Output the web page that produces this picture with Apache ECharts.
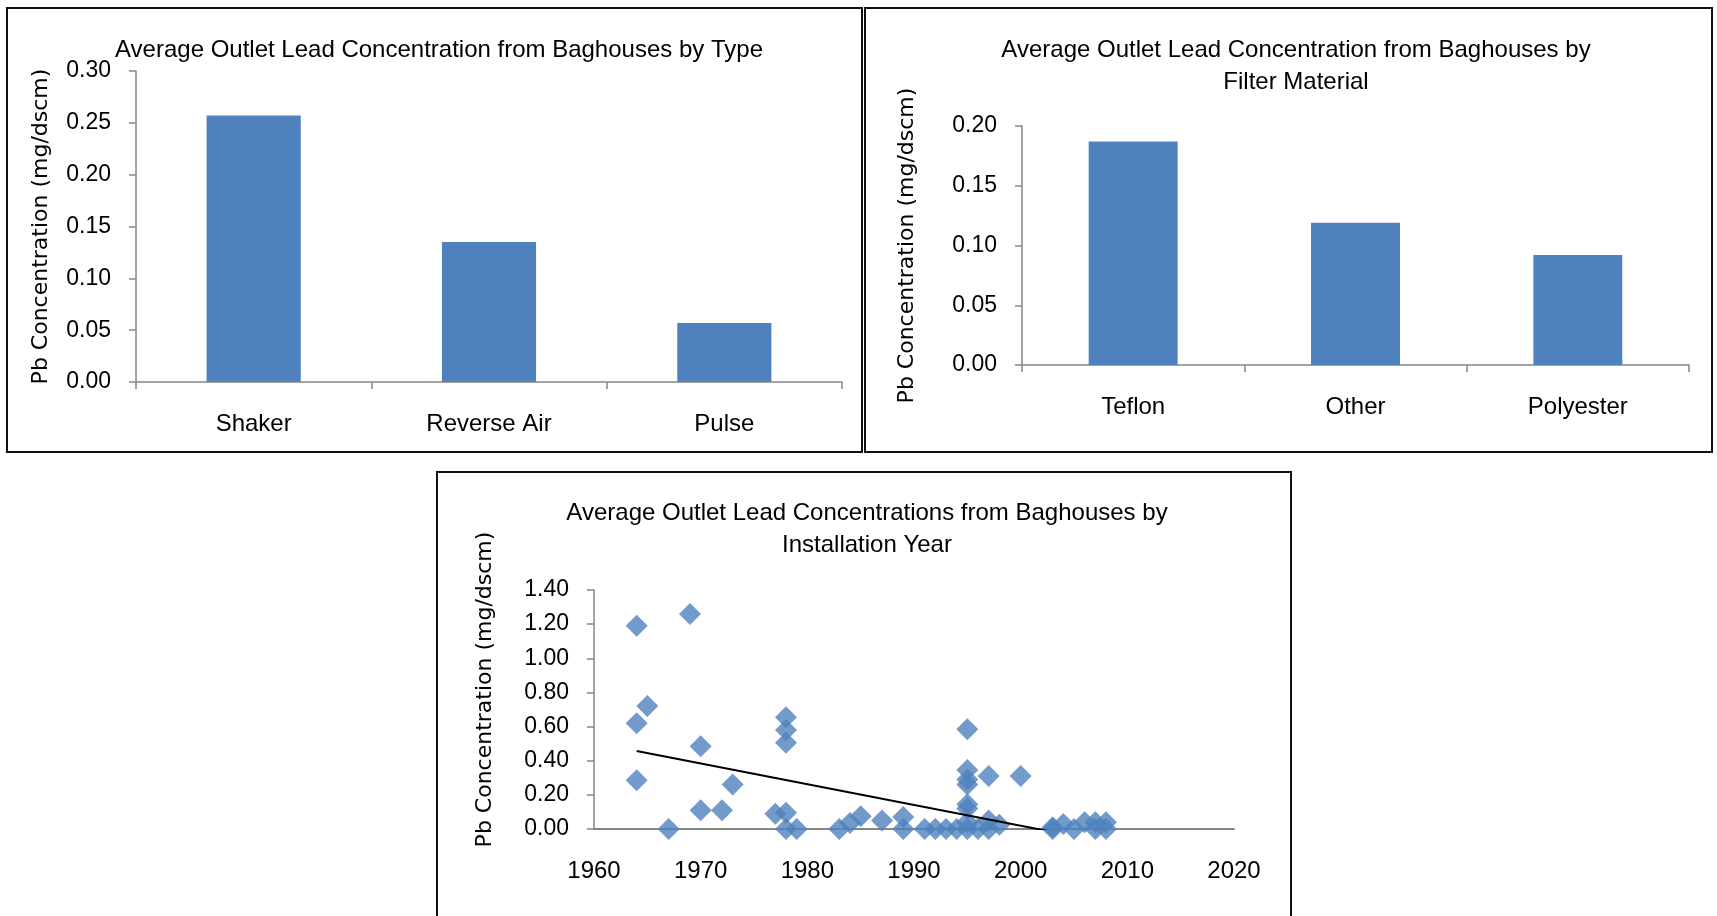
<!DOCTYPE html>
<html>
<head>
<meta charset="utf-8">
<script src="https://cdn.jsdelivr.net/npm/echarts@6/dist/echarts.min.js"></script>
<style>
html,body{margin:0;padding:0;background:#fff;}
#c{width:1717px;height:916px;}
</style>
</head>
<body>
<div id="c"></div>
<script>
// ---- data ----
const typeCategories = ['Shaker', 'Reverse Air', 'Pulse'];
const typeValues = [0.257, 0.135, 0.057];

const materialCategories = ['Teflon', 'Other', 'Polyester'];
const materialValues = [0.187, 0.119, 0.092];

const installYears = [1964, 1964, 1964, 1965, 1967, 1969, 1970, 1970, 1972, 1973,
  1977, 1978, 1978, 1978, 1978, 1978, 1979, 1983, 1984, 1985, 1987, 1989, 1989,
  1991, 1992, 1993, 1994, 1995, 1995, 1995, 1995, 1995, 1995, 1995, 1995, 1996,
  1997, 1997, 1997, 1998, 2000, 2003, 2003, 2004, 2005, 2006, 2007, 2007, 2008, 2008];
const installValues = [1.19, 0.62, 0.285, 0.72, 0.00, 1.26, 0.485, 0.11, 0.11, 0.26,
  0.09, 0.655, 0.58, 0.505, 0.095, 0.00, 0.00, 0.00, 0.035, 0.075, 0.05, 0.07, 0.00,
  0.00, 0.00, 0.00, 0.00, 0.585, 0.345, 0.29, 0.26, 0.145, 0.12, 0.04, 0.00, 0.00,
  0.31, 0.05, 0.00, 0.025, 0.31, 0.01, 0.00, 0.03, 0.00, 0.04, 0.04, 0.00, 0.04, 0.00];

const trendYears = [1964, 2008];
const trendValues = [0.457, -0.078];

const titles = [
  'Average Outlet Lead Concentration from Baghouses by Type',
  'Average Outlet Lead Concentration from Baghouses by\nFilter Material',
  'Average Outlet Lead Concentrations from Baghouses by\nInstallation Year'
];
const yAxisName = 'Pb Concentration (mg/dscm)';

// ---- styles ----
const BLUE = '#4F81BD';
const AXIS = '#868686';
const TICKFONT = 'Liberation Sans';
const tickStyle = {color: '#000', fontFamily: TICKFONT, fontSize: 23};
const nameStyle = {color: '#000', fontFamily: 'DejaVu Sans', fontSize: 22};
const titleStyle = {color: '#000', fontFamily: TICKFONT, fontSize: 24, fontWeight: 'normal', lineHeight: 32};

const pairs = installYears.map((y, i) => [y, installValues[i]]);
const trend = trendYears.map((y, i) => [y, trendValues[i]]);

function valAxis(grid, max, interval, gap, pad) {
  return {
    type: 'value', gridIndex: grid, min: 0, max: max, interval: interval,
    name: yAxisName, nameLocation: 'middle', nameGap: gap, nameRotate: 90,
    nameTextStyle: Object.assign({}, nameStyle, pad ? {padding: pad} : {}),
    axisLine: {show: true, lineStyle: {color: AXIS, width: 1.5}},
    axisTick: {show: true, length: 7, lineStyle: {color: AXIS, width: 1.5}},
    splitLine: {show: false},
    axisLabel: Object.assign({margin: 25, formatter: v => v.toFixed(2)}, tickStyle)
  };
}
function catAxis(grid, cats) {
  return {
    type: 'category', gridIndex: grid, data: cats,
    axisLine: {lineStyle: {color: AXIS, width: 1.5}},
    axisTick: {show: true, length: 7, lineStyle: {color: AXIS, width: 1.5}},
    axisLabel: Object.assign({margin: 30}, tickStyle, {fontSize: 24})
  };
}

const chart = echarts.init(document.getElementById('c'), null, {renderer: 'canvas'});
chart.setOption({
  backgroundColor: '#fff',
  animation: false,
  title: [
    {text: titles[0], left: 434, top: 29, textAlign: 'center', textStyle: titleStyle},
    {text: titles[1], left: 1291, top: 29, textAlign: 'center', textStyle: titleStyle},
    {text: titles[2], left: 862, top: 492, textAlign: 'center', textStyle: titleStyle}
  ],
  graphic: [
    {type: 'rect', shape: {x: 7, y: 8, width: 855, height: 444}, style: {fill: null, stroke: '#111', lineWidth: 2}, silent: true},
    {type: 'rect', shape: {x: 865, y: 8, width: 847, height: 444}, style: {fill: null, stroke: '#111', lineWidth: 2}, silent: true},
    {type: 'rect', shape: {x: 437, y: 472, width: 854, height: 460}, style: {fill: null, stroke: '#111', lineWidth: 2}, silent: true}
  ],
  grid: [
    {left: 136, top: 71, width: 706, height: 311},
    {left: 1022, top: 126, width: 667, height: 239},
    {left: 594, top: 590, width: 640, height: 239}
  ],
  xAxis: [
    catAxis(0, typeCategories),
    catAxis(1, materialCategories),
    {
      type: 'value', gridIndex: 2, min: 1960, max: 2020, interval: 10,
      axisLine: {show: true, lineStyle: {color: AXIS, width: 2}},
      axisTick: {show: false},
      splitLine: {show: false},
      axisLabel: Object.assign({margin: 30, formatter: v => String(v)}, tickStyle, {fontSize: 24})
    }
  ],
  yAxis: [
    valAxis(0, 0.30, 0.05, 84),
    valAxis(1, 0.20, 0.05, 104),
    valAxis(2, 1.40, 0.20, 98, [0, 0, 0, 40])
  ],
  series: [
    {type: 'bar', xAxisIndex: 0, yAxisIndex: 0, data: typeValues, barWidth: '40%', itemStyle: {color: BLUE}},
    {type: 'bar', xAxisIndex: 1, yAxisIndex: 1, data: materialValues, barWidth: '40%', itemStyle: {color: BLUE}},
    {type: 'scatter', xAxisIndex: 2, yAxisIndex: 2, data: pairs, symbol: 'diamond', symbolSize: 22, itemStyle: {color: BLUE}},
    {type: 'line', xAxisIndex: 2, yAxisIndex: 2, data: trend, symbol: 'none', clip: true, lineStyle: {color: '#000', width: 2}}
  ]
});
</script>
</body>
</html>
